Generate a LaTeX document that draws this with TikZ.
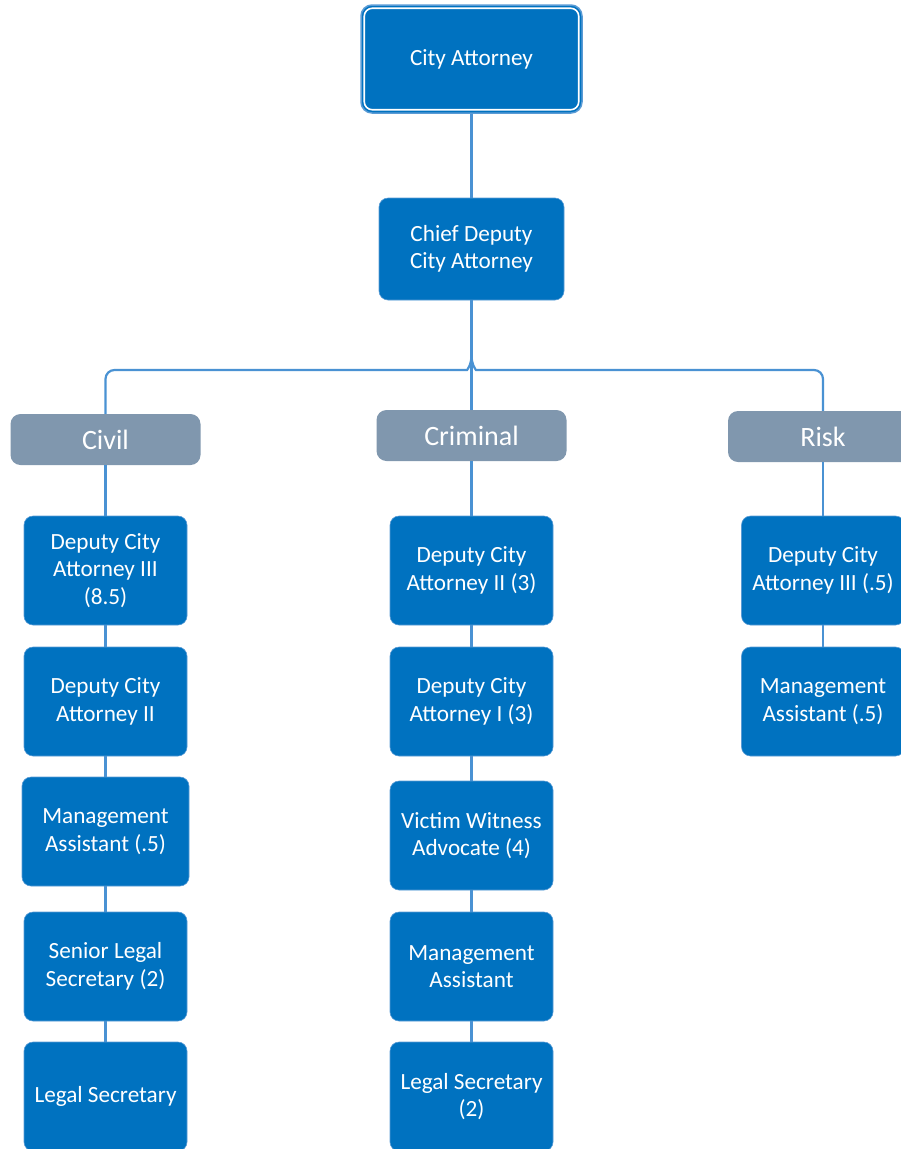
\documentclass[tikz,border=0pt]{standalone}
\usepackage{fontspec}
\setmainfont{Carlito}
\definecolor{mainblue}{RGB}{0,114,192}
\definecolor{hdrgray}{RGB}{128,151,174}
\definecolor{lineblue}{RGB}{74,146,211}
\definecolor{edgeblue}{RGB}{90,155,213}
\begin{document}
\begin{tikzpicture}[x=1pt,y=-1pt,
  box/.style={rectangle, rounded corners=9pt, fill=mainblue, draw=edgeblue, line width=0.6pt,
    text=white, align=center, font=\fontsize{23.2}{27.5}\selectfont,
    minimum width=163pt, minimum height=109pt, inner sep=0pt},
  hdr/.style={rectangle, rounded corners=10pt, fill=hdrgray, draw=none,
    text=white, align=center, font=\fontsize{28}{32}\selectfont,
    minimum width=190pt, minimum height=51pt, inner sep=0pt},
  conn/.style={draw=lineblue, line width=2.2pt}]
\useasboundingbox (0,0) rectangle (901,1149);
% top
\node[box, minimum width=221pt, minimum height=108pt, draw=edgeblue, line width=1.5pt, rounded corners=11pt] (ca) at (471.5,59) {City Attorney};
\draw[white, line width=1.6pt, rounded corners=8pt] ([shift={(4,4)}]ca.north west) rectangle ([shift={(-4,-4)}]ca.south east);
\node[box, minimum width=185pt, minimum height=102pt] (chief) at (471.5,249) {Chief Deputy\\City Attorney};
% headers
\node[hdr] (civil) at (105.5,439.5) {Civil};
\node[hdr] (crim) at (471.5,435.5) {Criminal};
\node[hdr] (risk) at (823,436.5) {Risk};
% civil column
\node[box] (c1) at (105.5,570.5) {Deputy City\\Attorney III\\(8.5)};
\node[box] (c2) at (105.5,701.5) {Deputy City\\Attorney II};
\node[box, minimum width=167pt] (c3) at (105.5,831.5) {Management\\Assistant (.5)};
\node[box] (c4) at (105.5,966.5) {Senior Legal\\Secretary (2)};
\node[box] (c5) at (105.5,1096.5) {Legal Secretary};
% criminal column
\node[box] (r1) at (471.5,570.5) {Deputy City\\Attorney II (3)};
\node[box] (r2) at (471.5,701.5) {Deputy City\\Attorney I (3)};
\node[box] (r3) at (471.5,835.5) {Victim Witness\\Advocate (4)};
\node[box] (r4) at (471.5,966.5) {Management\\Assistant};
\node[box] (r5) at (471.5,1096.5) {Legal Secretary\\(2)};
% risk column
\node[box] (k1) at (823,570.5) {Deputy City\\Attorney III (.5)};
\node[box] (k2) at (823,701.5) {Management\\Assistant (.5)};
% connectors
\coordinate (hopL) at (471.5,355);
\coordinate (hopR) at (471.5,355);
\draw[conn] (ca.south) -- (chief.north);
\draw[conn] (chief.south) -- (crim.north);
\draw[conn, rounded corners=9pt] (civil.north) |- (458,370) .. controls (467,370) and (471.5,365) .. (hopL);
\draw[conn, rounded corners=9pt] (risk.north) |- (485,370) .. controls (476,370) and (471.5,365) .. (hopR);
\draw[conn] (civil.south) -- (c1.north);
\draw[conn] (c1.south) -- (c2.north);
\draw[conn] (c2.south) -- (c3.north);
\draw[conn] (c3.south) -- (c4.north);
\draw[conn] (c4.south) -- (c5.north);
\draw[conn] (crim.south) -- (r1.north);
\draw[conn] (r1.south) -- (r2.north);
\draw[conn] (r2.south) -- (r3.north);
\draw[conn] (r3.south) -- (r4.north);
\draw[conn] (r4.south) -- (r5.north);
\draw[conn] (risk.south) -- (k1.north);
\draw[conn] (k1.south) -- (k2.north);
\end{tikzpicture}
\end{document}
